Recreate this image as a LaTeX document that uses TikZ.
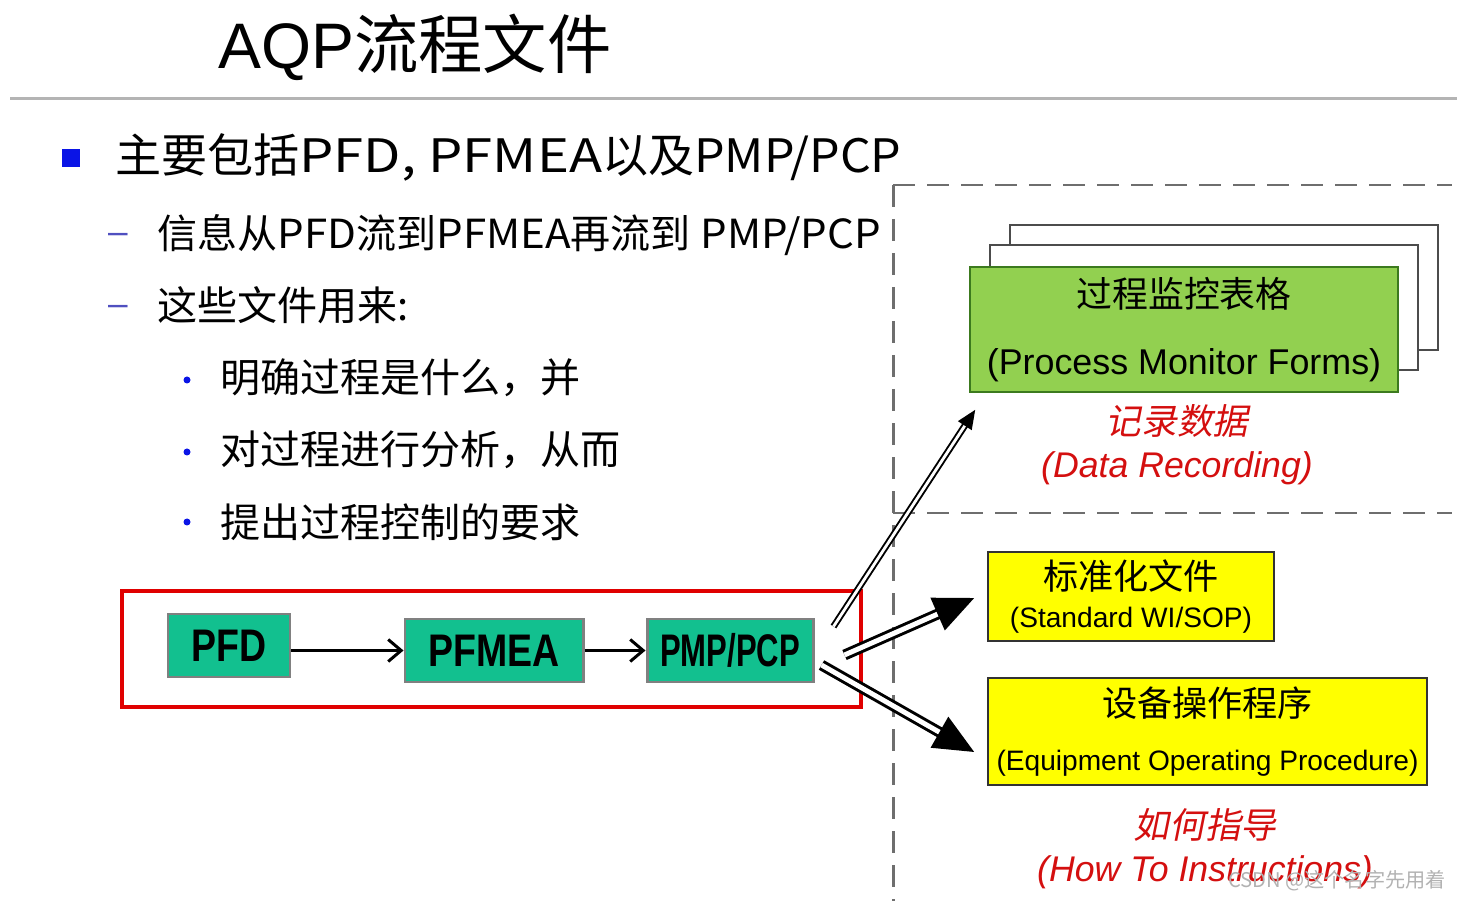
\documentclass[tikz,border=0pt]{standalone}
\usepackage{fontspec}
\usepackage{xcolor}
\usepackage{tikz}
\usetikzlibrary{
  arrows.meta,
  positioning,
  calc
}
\setmainfont{Liberation Sans}
\newfontfamily\cjk{Noto Sans CJK SC}
\newfontfamily\cjkslant[FakeSlant=0.2]{Noto Sans CJK SC}
\newfontfamily\latn[FakeStretch=1.05]{Noto Sans CJK SC}
\newfontfamily\latnwide[FakeStretch=1.18]{Noto Sans CJK SC}
\newfontfamily\narrowfont[FakeStretch=0.82]{Liberation Sans}
\newfontfamily\narrowerfont[FakeStretch=0.68]{Liberation Sans}
\definecolor{aqTeal}{HTML}{12C08F}
\definecolor{aqGreen}{HTML}{92D050}
\definecolor{aqGreenLine}{HTML}{3C7A1E}
\definecolor{aqYellow}{HTML}{FFFF00}
\definecolor{aqRed}{HTML}{E00000}
\definecolor{aqNote}{HTML}{D40F0F}
\definecolor{aqBlue}{HTML}{0A14E6}
\definecolor{aqDash}{HTML}{5050C0}
\definecolor{aqMute}{HTML}{6E6E6E}
\definecolor{aqRule}{HTML}{B4B4B4}
\tikzset{
  aqnode/.style={
    draw, inner sep=0pt, align=center
  },
  stepbox/.style={aqnode, fill=aqTeal, draw=gray, line width=1.7pt, minimum height=12.6mm,
    font=\narrowfont\bfseries\fontsize{26}{30}\selectfont},
  formbox/.style={aqnode, fill=white, draw=black!70, line width=0.9pt, minimum width=85.6mm, minimum height=25mm},
  docbox/.style={aqnode, fill=aqYellow, draw=black!80, line width=0.9pt},
  note/.style={align=center, inner sep=0pt, text=aqNote, font=\itshape\fontsize{20.3}{24.5}\selectfont},
  lvlone/.style={anchor=west, inner sep=0pt, font=\cjk\fontsize{26.2}{30}\selectfont},
  lvltwo/.style={anchor=west, inner sep=0pt, font=\cjk\fontsize{22.8}{27}\selectfont},
  dashmark/.style={inner sep=0pt, text=aqDash, font=\fontsize{20}{24}\selectfont},
  dotmark/.style={circle, fill=aqBlue, inner sep=0pt, minimum size=1.4mm},
  flow/.style={-{Straight Barb[length=2.6mm,width=4.4mm]}, line width=1.7pt},
  thinlink/.style={draw, double=white, double distance=1.6pt, line width=1.1pt,
    -{Triangle[length=3.8mm,width=3.2mm]}},
  fatlink/.style={draw, double=white, double distance=2.8pt, line width=1.7pt,
    -{Triangle[length=8mm,width=7mm]}},
  zone/.style={dash pattern=on 4.4mm off 2.4mm, line width=1.7pt, aqMute}
}
\begin{document}
\begin{tikzpicture}[x=0.2mm, y=-0.2mm]
  \useasboundingbox (0,0) rectangle (1457,901);
  \node[anchor=west, inner sep=0pt, font=\cjk\fontsize{36.6}{40}\selectfont] (title) at (218,47) {{\rmfamily AQP}流程文件};
  \draw[aqRule, line width=1.7pt] (10,99) -- (1457,99);

  \node[fill=aqBlue, minimum size=3.6mm, inner sep=0pt] (sq) at (71,158) {};
  \node[lvlone] (main) at (115,157) {主要包括{\latnwide PFD, PFMEA}以及{\latn PMP/PCP}};
  \node[dashmark] (d1) at (118,238) {–};
  \node[lvltwo] (sub1) at (157,235) {信息从{\latn PFD}流到{\latn PFMEA}再流到{\latn\ PMP/PCP}};
  \node[dashmark] (d2) at (118,310) {–};
  \node[lvltwo] (sub2) at (157,305) {这些文件用来:};
  \node[dotmark] (p1) at (187,380) {};
  \node[lvltwo] (use1) at (220,378) {明确过程是什么，并};
  \node[dotmark] (p2) at (187,452) {};
  \node[lvltwo] (use2) at (220,450) {对过程进行分析，从而};
  \node[dotmark] (p3) at (187,522) {};
  \node[lvltwo] (use3) at (220,522) {提出过程控制的要求};

  \draw[zone] (893,185) -- (1452,185);
  \draw[zone] (893,513) -- (1452,513);
  \draw[zone] (893,185) -- (893,901);

  \node[draw=aqRed, line width=1.9pt, minimum width=147.8mm, minimum height=23.2mm] (frame) at (491.5,649) {};
  \node[stepbox, minimum width=24.4mm] (pfd) at (229,645.5) {PFD};
  \node[stepbox, minimum width=35.6mm] (pfmea) at (494,650.5) {PFMEA};
  \node[stepbox, minimum width=33.2mm, font=\narrowerfont\bfseries\fontsize{26}{30}\selectfont] (pmp) at (730,650.5) {PMP/PCP};
  \draw[flow] (pfd.east |- pfmea) -- (pfmea);
  \draw[flow] (pfmea) -- (pmp);

  \node[formbox] (pmfback2) at (1224,287.5) {};
  \node[formbox] (pmfback1) at (1204,307.5) {};
  \node[formbox, fill=aqGreen, draw=aqGreenLine, font=\fontsize{20.4}{38}\selectfont] (pmf) at (1184,329.5)
    {{\cjk 过程监控表格}\\(Process Monitor Forms)};
  \node[note] (rec) at (1177,445) {{\cjkslant 记录数据}\\(Data Recording)};

  \node[docbox, minimum width=57.2mm, minimum height=17.8mm, font=\fontsize{16}{21.6}\selectfont] (sop) at (1131,596.5)
    {{\cjk\fontsize{20}{21.6}\selectfont 标准化文件}\\(Standard WI/SOP)};
  \node[docbox, minimum width=87.8mm, minimum height=21.4mm, font=\fontsize{16}{30.7}\selectfont] (eop) at (1207.5,731.5)
    {{\cjk\fontsize{20}{30.7}\selectfont 设备操作程序}\\(Equipment Operating Procedure)};
  \node[note] (how) at (1205,849) {{\cjkslant 如何指导}\\(How To Instructions)};

  \draw[thinlink] ($(pmp.north east)+(19,9)$) -- ($(pmf.south west)+(6,17)$);
  \draw[fatlink] ($(pmp.east)+(30,4.5)$) -- ($(sop.west)+(-13,1.5)$);
  \draw[fatlink] ($(pmp.east)+(7,14.5)$) -- ($(eop.west)+(-13,20.5)$);

  \node[inner sep=0pt, text=black!30, font=\cjk\fontsize{11.5}{14}\selectfont] (mark) at (1337,881) {CSDN @这个名字先用着};
\end{tikzpicture}
\end{document}
